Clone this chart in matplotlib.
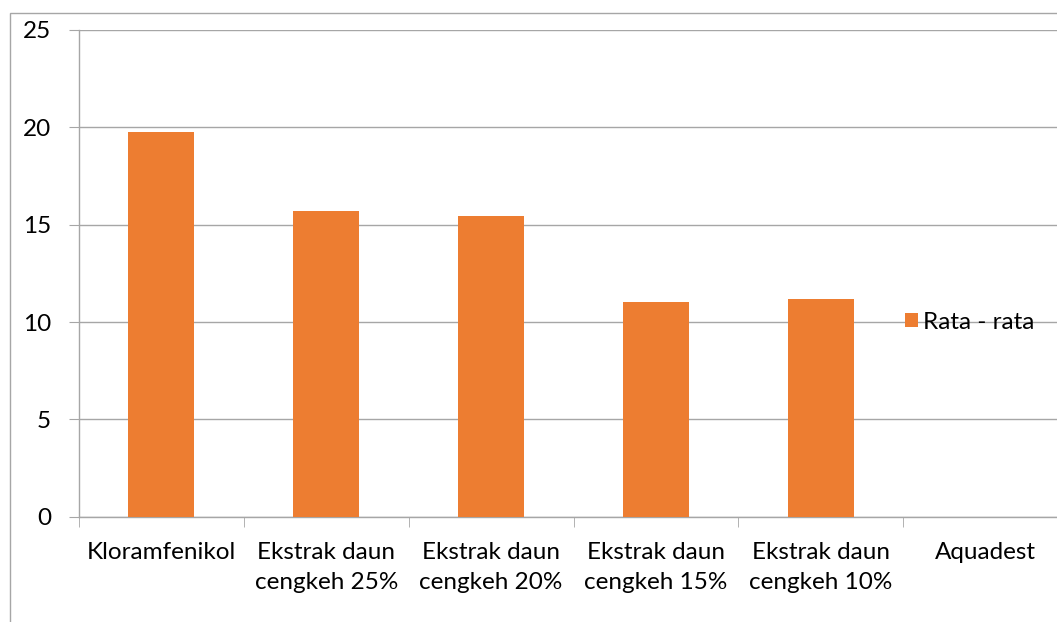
import numpy as np
import matplotlib
matplotlib.use("Agg")
import matplotlib.pyplot as plt
from matplotlib.patches import Rectangle

plt.rcParams["font.family"] = ["Lato", "DejaVu Sans"]

categories = ["Kloramfenikol", "Ekstrak daun\ncengkeh 25%", "Ekstrak daun\ncengkeh 20%",
              "Ekstrak daun\ncengkeh 15%", "Ekstrak daun\ncengkeh 10%", "Aquadest"]
rata_rata = [19.74, 15.69, 15.46, 11.04, 11.18, 0]
series_name = "Rata - rata"
y_ticks = [0, 5, 10, 15, 20, 25]

grey = "#a6a6a6"
orange = "#ed7d31"
fs = 17.5

fig = plt.figure(figsize=(10.57, 6.22), dpi=100)
# chart area border (cropped on right and bottom)
fig.patches.append(Rectangle((10 / 1057, -0.1), 1.2, 1 - 13 / 622 + 0.1,
                             transform=fig.transFigure, fill=False,
                             edgecolor=grey, linewidth=1))

ax = fig.add_axes([79 / 1057, 1 - 516.7 / 622, 989 / 1057, (516.7 - 30) / 622])
x = np.arange(len(categories))
ax.bar(x, rata_rata, width=0.4, color=orange, label=series_name, zorder=3)

ax.set_xlim(-0.5, len(categories) - 0.5)
ax.set_ylim(0, 25)
ax.set_yticks(y_ticks)
ax.set_yticklabels([str(t) for t in y_ticks], fontsize=fs)
ax.grid(axis="y", color=grey, linewidth=1, zorder=0)
ax.set_axisbelow(True)

ax.set_xticks(x)
ax.set_xticklabels(categories, fontsize=fs, linespacing=1.55)
ax.set_xticks(np.arange(len(categories) + 1) - 0.5, minor=True)
ax.tick_params(axis="x", which="major", length=0, pad=18)
ax.tick_params(axis="x", which="minor", length=7, color=grey, direction="out")
ax.tick_params(axis="y", length=7, color=grey, direction="out", pad=13)

for s in ["top", "right"]:
    ax.spines[s].set_visible(False)
for s in ["left", "bottom"]:
    ax.spines[s].set_color(grey)
    ax.spines[s].set_linewidth(1)

ax.legend(loc="center left", bbox_to_anchor=(0.835, 0.4), frameon=False,
          fontsize=fs, handlelength=0.55, handleheight=0.55, handletextpad=0.2,
          borderaxespad=0, borderpad=0)

fig.savefig("out.png", dpi=100)
